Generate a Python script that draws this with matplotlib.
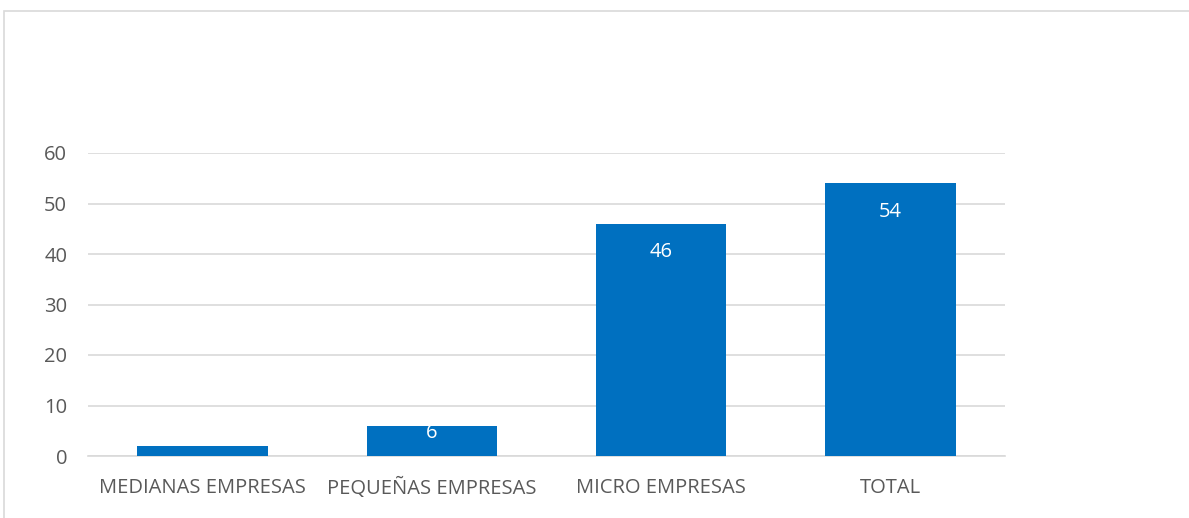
import matplotlib.pyplot as plt
from matplotlib.patches import Rectangle

categories = ["MEDIANAS EMPRESAS", "PEQUEÑAS EMPRESAS", "MICRO EMPRESAS", "TOTAL"]
values = [2, 6, 46, 54]
show_label = [False, True, True, True]
y_ticks = [0, 10, 20, 30, 40, 50, 60]

BAR_COLOR = "#0070C0"
GRID_COLOR = "#D9D9D9"
TEXT_COLOR = "#595959"

plt.rcParams["font.family"] = ["Open Sans", "DejaVu Sans"]

fig = plt.figure(figsize=(11.89, 5.18), dpi=100)
ax = fig.add_axes([88 / 1189, 62 / 518, 917 / 1189, 303 / 518])

# 外框
fig.patches.append(Rectangle((4 / 1189, -0.1), 1.2, 1.1 - 11 / 518,
                             transform=fig.transFigure, fill=False,
                             edgecolor=GRID_COLOR, linewidth=1.2))

x = range(len(categories))
bars = ax.bar(x, values, width=0.57, color=BAR_COLOR, zorder=3)

# 数据标签（白色，柱内顶端）
for rect, v, show in zip(bars, values, show_label):
    if not show:
        continue
    y = v - 5.7 if v > 20 else v - 1.4
    ax.text(rect.get_x() + rect.get_width() / 2, y, str(v),
            ha="center", va="center", color="white", fontsize=14.5, zorder=4)

ax.set_xlim(-0.5, len(categories) - 0.5)
ax.set_ylim(0, 60)
ax.set_yticks(y_ticks)
ax.set_xticks(list(x))
ax.set_xticklabels(categories)
ax.tick_params(axis="both", length=0, colors=TEXT_COLOR, labelsize=14.5)
ax.tick_params(axis="y", pad=15)
ax.tick_params(axis="x", pad=16)
ax.yaxis.grid(True, color=GRID_COLOR, linewidth=1.2, zorder=0)
ax.set_axisbelow(True)
for side in ["top", "right", "left"]:
    ax.spines[side].set_visible(False)
ax.spines["bottom"].set_color(GRID_COLOR)
ax.spines["bottom"].set_linewidth(1.2)

fig.savefig("out.png", dpi=100)
